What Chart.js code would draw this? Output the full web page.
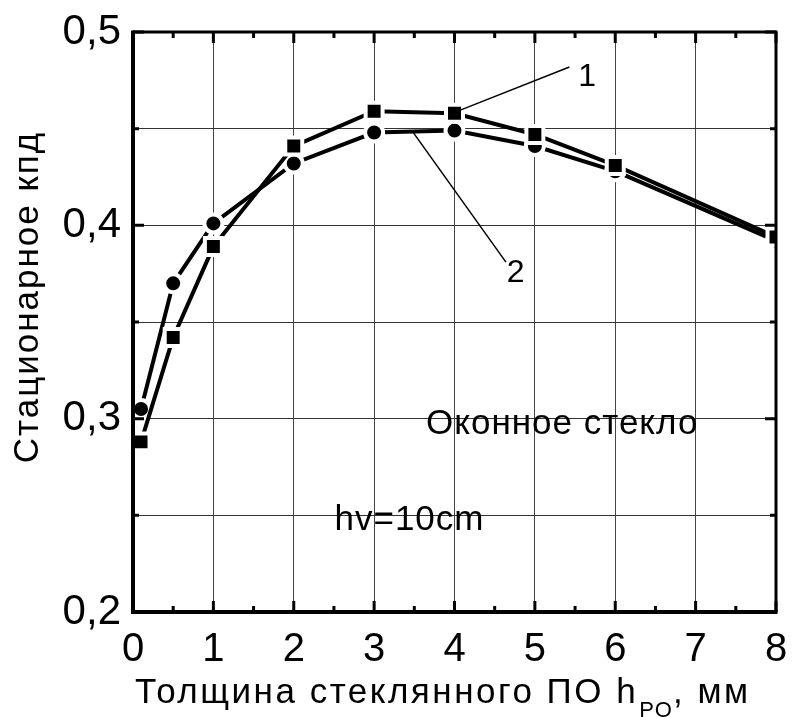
<!DOCTYPE html>
<html>
<head>
<meta charset="utf-8">
<script src="https://cdn.jsdelivr.net/npm/chart.js@4/dist/chart.umd.min.js"></script>
<style>
  html, body { margin: 0; padding: 0; background: #fff; }
  canvas { display: block; }
</style>
</head>
<body>
<canvas id="effChart" width="792" height="717"></canvas>
<script>
const FONT = '"Liberation Sans", Arial, sans-serif';

// glass thickness, mm
const thickness = [0.1, 0.5, 1, 2, 3, 4, 5, 6, 8];
// curve 1 (squares) and curve 2 (circles)
const efficiency1 = [0.288, 0.342, 0.389, 0.441, 0.459, 0.458, 0.447, 0.431, 0.394];
const efficiency2 = [0.305, 0.370, 0.401, 0.432, 0.448, 0.449, 0.441, 0.428, 0.392];

const xTickValues = [0, 1, 2, 3, 4, 5, 6, 7, 8];
const yLabelValues = [0.2, 0.3, 0.4, 0.5];

const toPoints = (ys) => thickness.map((x, i) => ({ x: x, y: ys[i] }));

// inward ticks and the heavy frame
const frame = {
  id: "frame",
  afterDraw(chart) {
    const { ctx, chartArea: a, scales } = chart;
    const xs = scales.x, ys = scales.y;
    ctx.save();
    ctx.strokeStyle = "#000";
    ctx.lineCap = "butt";
    ctx.lineWidth = 3;
    for (let v = 0; v <= 8.001; v += 0.5) {
      const px = xs.getPixelForValue(v);
      const len = Math.abs(v - Math.round(v)) < 0.01 ? 11 : 6;
      ctx.beginPath();
      ctx.moveTo(px, a.bottom); ctx.lineTo(px, a.bottom - len);
      ctx.moveTo(px, a.top); ctx.lineTo(px, a.top + len);
      ctx.stroke();
    }
    for (let i = 0; i <= 6; i++) {
      const py = ys.getPixelForValue(0.2 + i * 0.05);
      const len = i % 2 === 0 ? 11 : 6;
      ctx.beginPath();
      ctx.moveTo(a.left, py); ctx.lineTo(a.left + len, py);
      ctx.moveTo(a.right, py); ctx.lineTo(a.right - len, py);
      ctx.stroke();
    }
    ctx.lineWidth = 3;
    ctx.beginPath();
    ctx.moveTo(a.left, a.top); ctx.lineTo(a.right, a.top); ctx.lineTo(a.right, a.bottom);
    ctx.stroke();
    ctx.lineWidth = 4;
    ctx.beginPath();
    ctx.moveTo(a.left, a.top - 1.5); ctx.lineTo(a.left, a.bottom); ctx.lineTo(a.right + 1.5, a.bottom);
    ctx.stroke();

    // axis titles
    ctx.fillStyle = "#000";
    ctx.textBaseline = "alphabetic";
    ctx.textAlign = "left";
    ctx.font = "35px " + FONT;
    ctx.letterSpacing = "2.5px";
    let tx = 135;
    const base = 703;
    const main = "Толщина стеклянного ПО h";
    ctx.fillText(main, tx, base);
    tx += ctx.measureText(main).width;
    ctx.font = "22px " + FONT;
    ctx.letterSpacing = "1px";
    ctx.fillText("PO", tx + 1, base + 14);
    tx += ctx.measureText("PO").width + 1;
    ctx.font = "35px " + FONT;
    ctx.letterSpacing = "2.5px";
    ctx.fillText(", мм", tx, base);

    ctx.translate(38, 297);
    ctx.rotate(-Math.PI / 2);
    ctx.textAlign = "center";
    ctx.letterSpacing = "2px";
    ctx.fillText("Стационарное кпд", 0, 0);
    ctx.restore();
  }
};

// curve numbers with leader lines and the text notes
const notes = {
  id: "notes",
  afterDatasetsDraw(chart) {
    const { ctx, scales } = chart;
    const X = (v) => scales.x.getPixelForValue(v);
    const Y = (v) => scales.y.getPixelForValue(v);
    ctx.save();
    ctx.strokeStyle = "#000";
    ctx.lineWidth = 1.5;
    ctx.beginPath();
    ctx.moveTo(X(4.08), Y(0.4597)); ctx.lineTo(X(5.43), Y(0.4819));
    ctx.moveTo(X(3.49), Y(0.4478)); ctx.lineTo(X(4.64), Y(0.381));
    ctx.stroke();
    ctx.fillStyle = "#000";
    ctx.textAlign = "center";
    ctx.textBaseline = "middle";
    ctx.font = "32px " + FONT;
    ctx.fillText("1", X(5.65), Y(0.4767));
    ctx.fillText("2", X(4.76), Y(0.375));
    ctx.textBaseline = "alphabetic";
    ctx.font = "35px " + FONT;
    ctx.letterSpacing = "1px";
    ctx.fillText("Оконное стекло", X(5.34), Y(0.292));
    ctx.fillText("hv=10cm", X(3.44), Y(0.2424));
    ctx.restore();
  }
};

new Chart(document.getElementById("effChart"), {
  type: "line",
  data: {
    datasets: [
      {
        label: "1",
        data: toPoints(efficiency1),
        borderColor: "#000",
        borderWidth: 4,
        pointStyle: "rect",
        pointRadius: 12,
        pointBackgroundColor: "#000",
        pointBorderColor: "#fff",
        pointBorderWidth: 4,
        tension: 0,
      },
      {
        label: "2",
        data: toPoints(efficiency2),
        borderColor: "#000",
        borderWidth: 4,
        pointStyle: "circle",
        pointRadius: 9,
        pointBackgroundColor: "#000",
        pointBorderColor: "#fff",
        pointBorderWidth: 4,
        tension: 0,
      },
    ],
  },
  options: {
    responsive: false,
    animation: false,
    layout: { padding: { top: 32, right: 12, left: 0, bottom: 0 } },
    plugins: { legend: { display: false }, tooltip: { enabled: false } },
    scales: {
      x: {
        type: "linear",
        min: 0,
        max: 8,
        afterFit: (s) => { s.height = 105; s.paddingLeft = 0; s.paddingRight = 0; },
        afterBuildTicks: (s) => { s.ticks = xTickValues.map((v) => ({ value: v })); },
        grid: { color: "#444", lineWidth: 1, drawTicks: false },
        border: { display: false },
        ticks: { padding: 14, color: "#000", font: { family: FONT, size: 40 } },
      },
      y: {
        min: 0.2,
        max: 0.5,
        afterFit: (s) => { s.width = 133; s.paddingTop = 0; s.paddingBottom = 0; },
        grid: { color: "#333", lineWidth: 1, drawTicks: false },
        border: { display: false },
        ticks: {
          stepSize: 0.05,
          padding: 12,
          color: "#000",
          font: { family: FONT, size: 42 },
          callback: (v) => {
            const hit = yLabelValues.find((t) => Math.abs(t - v) < 1e-6);
            return hit === undefined ? "" : hit.toFixed(1).replace(".", ",");
          },
        },
      },
    },
  },
  plugins: [notes, frame],
});
</script>
</body>
</html>
